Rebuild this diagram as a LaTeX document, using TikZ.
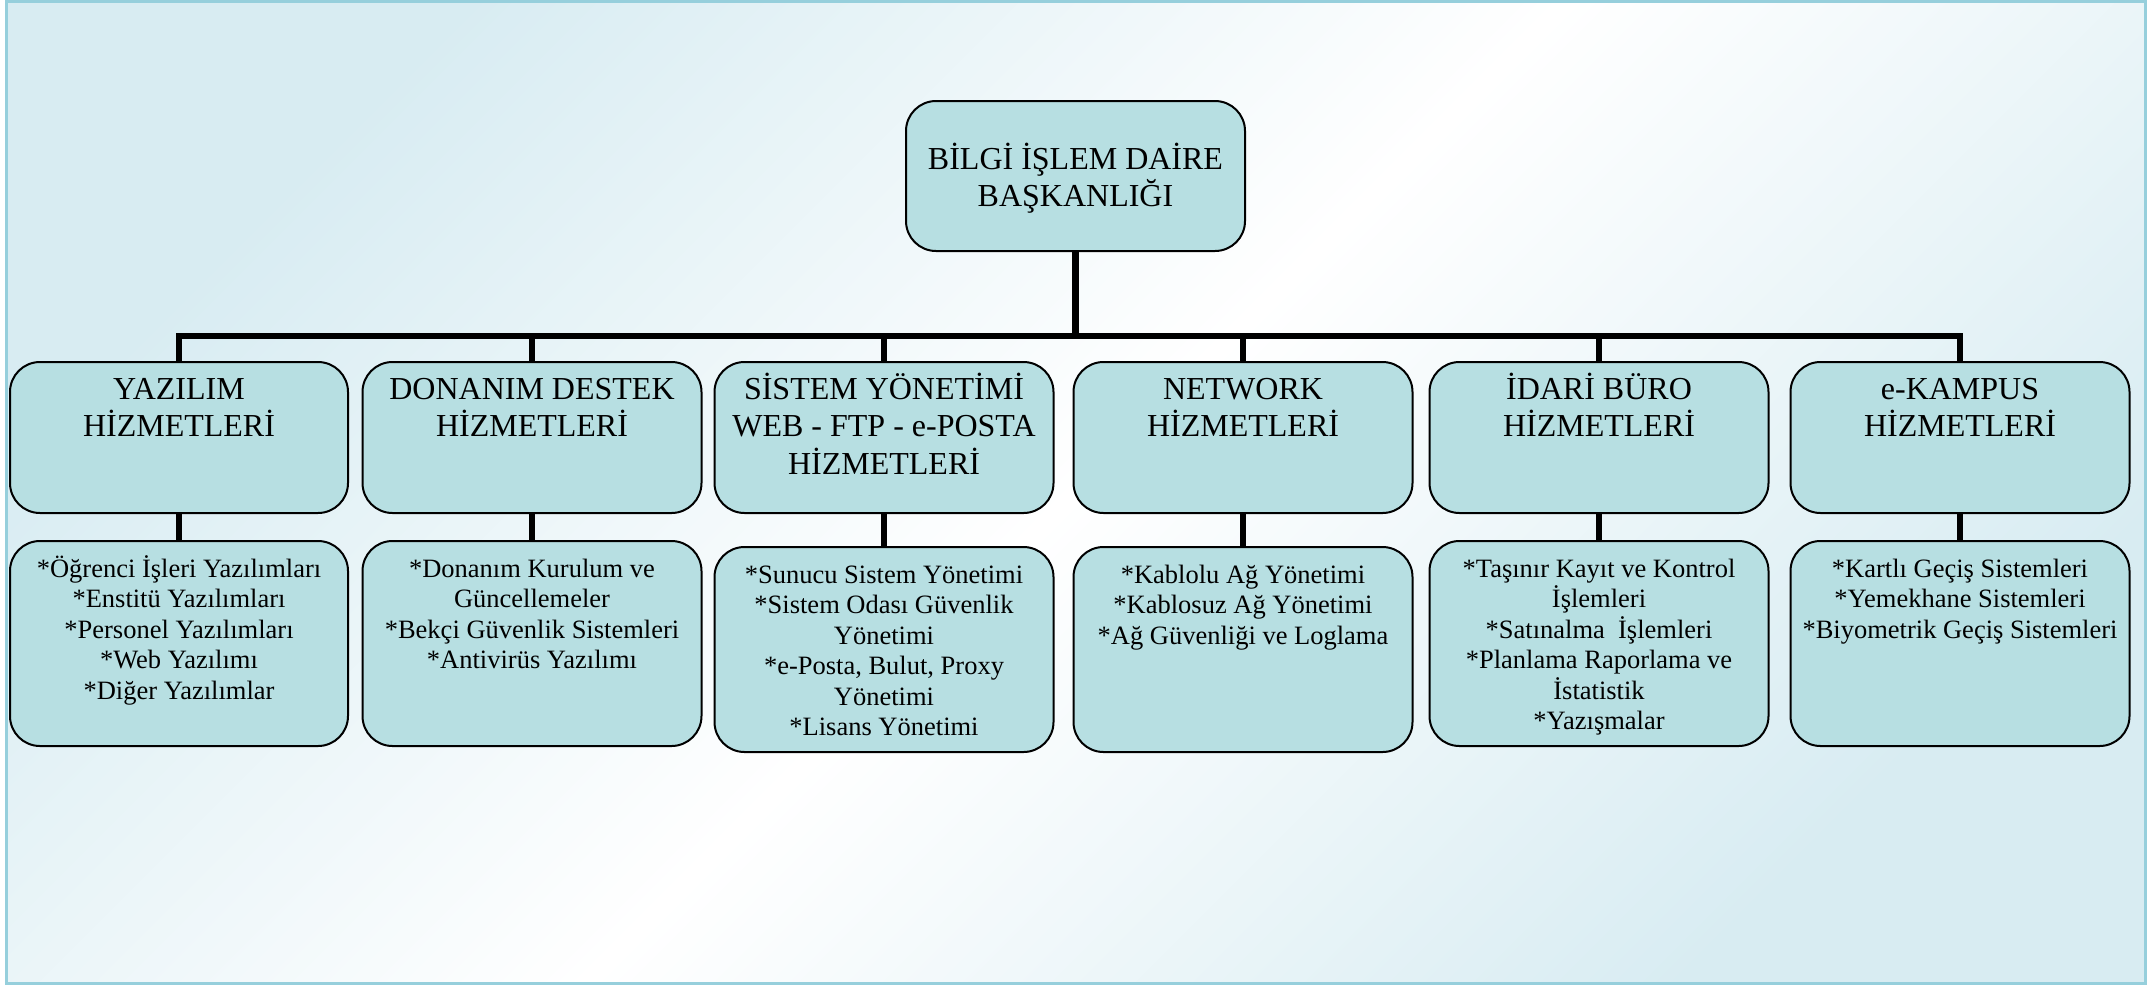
\documentclass[tikz,border=0pt]{standalone}
\usepackage{fontspec}
\setmainfont{Liberation Serif}
\definecolor{boxfill}{HTML}{B7DFE2}
\definecolor{bgblue}{HTML}{D8ECF2}
\definecolor{framecol}{HTML}{96CFDC}
\newcommand{\boxtxt}[4]{\parbox[b][#2][t]{#1}{\centering\rule{0pt}{#3}#4}}
\newcommand{\nl}{\\{}}
\begin{document}
\begin{tikzpicture}[x=1pt,y=-1pt,
  box/.style={draw=black, line width=2pt, fill=boxfill, rounded corners=30pt, inner sep=0pt},
  headfont/.style={font=\fontsize{32}{37.5}\selectfont},
  itemfont/.style={font=\fontsize{26.5}{30.5}\selectfont},
  conn/.style={draw=black, line width=6.5pt, line join=miter}]
\useasboundingbox (0,0) rectangle (2149,986);
\fill[white] (0,0) rectangle (2149,986);
\shade[top color=bgblue, bottom color=bgblue, middle color=white, shading angle=45] (6,2) rectangle (2145,984);
\draw[framecol, line width=3pt] (6.5,1.5) rectangle (2145,983.5);

% top box
\node[box, headfont] (top) at (1075.5,176) {\boxtxt{339pt}{150pt}{68pt}{BİLGİ İŞLEM DAİRE\nl BAŞKANLIĞI}};

% second level
\node[box, headfont] (b1) at (179,437.5) {\boxtxt{338pt}{151pt}{37pt}{YAZILIM\nl HİZMETLERİ}};
\node[box, headfont] (b2) at (532,437.5) {\boxtxt{339pt}{151pt}{37pt}{DONANIM DESTEK\nl HİZMETLERİ}};
\node[box, headfont] (b3) at (884,437.5) {\boxtxt{339pt}{151pt}{37pt}{SİSTEM YÖNETİMİ\nl WEB - FTP - e-POSTA\nl HİZMETLERİ}};
\node[box, headfont] (b4) at (1243,437.5) {\boxtxt{339pt}{151pt}{37pt}{NETWORK\nl HİZMETLERİ}};
\node[box, headfont] (b5) at (1599,437.5) {\boxtxt{339pt}{151pt}{37pt}{İDARİ BÜRO\nl HİZMETLERİ}};
\node[box, headfont] (b6) at (1960,437.5) {\boxtxt{339pt}{151pt}{37pt}{e-KAMPUS\nl HİZMETLERİ}};

% third level
\node[box, itemfont] (d1) at (179,643.5) {\boxtxt{338pt}{205pt}{36pt}{*Öğrenci İşleri Yazılımları\nl *Enstitü Yazılımları\nl *Personel Yazılımları\nl *Web Yazılımı\nl *Diğer Yazılımlar}};
\node[box, itemfont] (d2) at (532,643.5) {\boxtxt{339pt}{205pt}{36pt}{*Donanım Kurulum ve\nl Güncellemeler\nl *Bekçi Güvenlik Sistemleri\nl *Antivirüs Yazılımı}};
\node[box, itemfont] (d3) at (884,649.5) {\boxtxt{339pt}{205pt}{36pt}{*Sunucu Sistem Yönetimi\nl *Sistem Odası Güvenlik\nl Yönetimi\nl *e-Posta, Bulut, Proxy\nl Yönetimi\nl *Lisans Yönetimi}};
\node[box, itemfont] (d4) at (1243,649.5) {\boxtxt{339pt}{205pt}{36pt}{*Kablolu Ağ Yönetimi\nl *Kablosuz Ağ Yönetimi\nl *Ağ Güvenliği ve Loglama}};
\node[box, itemfont] (d5) at (1599,643.5) {\boxtxt{339pt}{205pt}{36pt}{*Taşınır Kayıt ve Kontrol\nl İşlemleri\nl *Satınalma\ \ İşlemleri\nl *Planlama Raporlama ve\nl İstatistik\nl *Yazışmalar}};
\node[box, itemfont] (d6) at (1960,643.5) {\boxtxt{339pt}{205pt}{36pt}{*Kartlı Geçiş Sistemleri\nl *Yemekhane Sistemleri\nl *Biyometrik Geçiş Sistemleri}};

% connectors
\coordinate (bus) at (0,336);
\draw[conn] (top.south) -- (top.south |- bus);
\draw[conn] (b1.north) -- (b1.north |- bus) -- (b6.north |- bus) -- (b6.north);
\foreach \i in {2,3,4,5}{\draw[conn] (b\i.north |- bus) -- (b\i.north);}
\foreach \i in {1,...,6}{\draw[conn] (b\i.south) -- (d\i.north);}
\end{tikzpicture}
\end{document}
